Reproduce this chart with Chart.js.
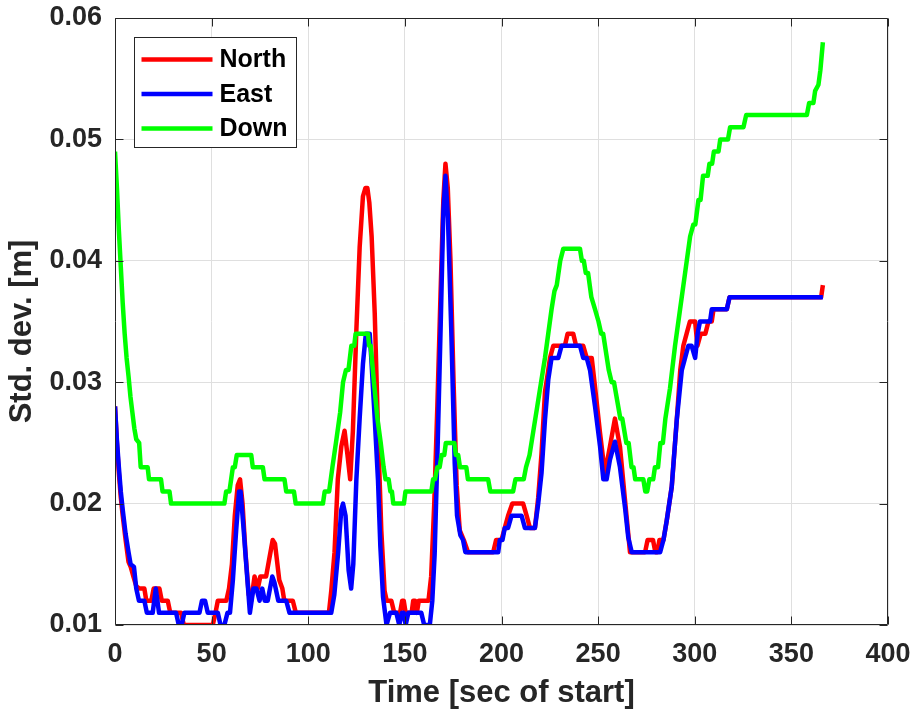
<!DOCTYPE html>
<html>
<head>
<meta charset="utf-8">
<script src="https://cdn.jsdelivr.net/npm/chart.js@4.4.1/dist/chart.umd.min.js"></script>
<style>
  html, body { margin: 0; padding: 0; background: #ffffff; }
  canvas { display: block; }
</style>
</head>
<body>
<canvas id="chart" width="916" height="713"></canvas>
<script>
// Standard deviation of the position solution over time, per axis.
const seriesNames = ['North', 'East', 'Down'];
const seriesColors = ['#ff0000', '#0000ff', '#00ff00'];

// [time (s), std. dev. (m)]
const northPts = [
  [0,0.028],[1,0.025],[2,0.0225],[3,0.0205],[4,0.019],[5.5,0.017],[7,0.0152],[8.1,0.0148],[9.5,0.014],[11,0.0132],
  [12.6,0.013],[15.2,0.013],[16.2,0.012],[18.8,0.012],[20,0.013],[23,0.013],[24.2,0.012],[27.3,0.012],[28.6,0.011],[34.2,0.011],
  [35.6,0.010],[50.6,0.010],[52,0.011],[53.2,0.012],[57.6,0.012],[59,0.013],[60.5,0.015],[62,0.019],[63.5,0.0215],[64.7,0.022],
  [66,0.020],[67.5,0.016],[69.2,0.0125],[70.5,0.012],[72.2,0.014],[73.9,0.013],[75.2,0.014],[78.2,0.014],[80,0.0156],[81.6,0.017],
  [82.8,0.0167],[85,0.0137],[86.6,0.013],[87.6,0.012],[92,0.012],[93.6,0.011],[110.7,0.011],[111.9,0.0128],[113.6,0.016],[115.3,0.022],
  [117.1,0.0247],[118.8,0.026],[120.3,0.024],[121.7,0.022],[123.1,0.026],[124.9,0.0343],[126.6,0.0411],[128.3,0.0453],[129.6,0.046],[130.6,0.046],
  [131.6,0.0448],[132.8,0.042],[134.4,0.0357],[136.1,0.026],[137.8,0.0178],[139.5,0.0128],[140.6,0.012],[143,0.012],[144.5,0.011],[147.5,0.011],
  [148.6,0.012],[149.4,0.012],[150.4,0.011],[153.5,0.011],[154.3,0.012],[155.3,0.012],[156.2,0.011],[157.2,0.012],[162.2,0.012],[163.6,0.014],
  [165.2,0.020],[166.8,0.028],[168.4,0.037],[169.9,0.045],[171,0.048],[172.2,0.046],[173.6,0.040],[175.2,0.030],[176.8,0.0215],[178.4,0.0178],
  [180.5,0.017],[182.7,0.016],[195.7,0.016],[197.2,0.017],[200,0.017],[201.7,0.018],[203.4,0.019],[205.6,0.020],[211.2,0.020],[213,0.019],
  [214.7,0.018],[217.3,0.018],[219,0.0205],[220.7,0.0241],[222.5,0.0292],[224.2,0.031],[225.1,0.032],[226.8,0.033],[232.8,0.033],[234.2,0.034],
  [237.1,0.034],[238.6,0.033],[242.3,0.033],[244.1,0.032],[246.7,0.032],[248.4,0.0296],[251,0.0258],[253.5,0.0225],[256.1,0.0247],[258.7,0.027],
  [261.3,0.0247],[263.9,0.0203],[266.5,0.016],[274.3,0.016],[275.6,0.017],[278.4,0.017],[279.6,0.016],[280.6,0.016],[281.7,0.017],[283.8,0.017],
  [285.5,0.0186],[288.1,0.0214],[290.7,0.0269],[292.5,0.031],[294.1,0.033],[295.8,0.034],[297.5,0.035],[300.2,0.035],[301.4,0.033],[303.1,0.034],
  [305.5,0.034],[307.1,0.035],[308.8,0.035],[309.7,0.036],[316.6,0.036],[318,0.037],[365.4,0.037],[366.3,0.038]
];

const eastPts = [
  [0,0.028],[1,0.0252],[2,0.023],[3,0.021],[4,0.0195],[5.5,0.0175],[7,0.016],[8.1,0.015],[9.8,0.0148],[11,0.013],
  [12.4,0.012],[15.2,0.012],[16.5,0.011],[19.5,0.011],[21.1,0.013],[22.8,0.011],[31.6,0.011],[33,0.010],[34.5,0.010],[35.9,0.011],
  [43.7,0.011],[45,0.012],[46.6,0.012],[48,0.011],[53.2,0.011],[54.6,0.010],[56.6,0.010],[58.2,0.011],[59.5,0.011],[61,0.0137],
  [62.7,0.0178],[64.2,0.021],[65,0.021],[66.5,0.018],[67.9,0.015],[69.8,0.011],[71.6,0.013],[73.2,0.013],[74.8,0.012],[76.2,0.013],
  [77.5,0.012],[79,0.012],[81.4,0.014],[82.5,0.0135],[84.5,0.012],[88.6,0.012],[90.3,0.011],[111.9,0.011],[113.5,0.0125],[115.5,0.016],
  [117.1,0.0195],[118,0.020],[119.3,0.019],[120.9,0.0145],[122.2,0.013],[123.3,0.015],[124.9,0.022],[126.6,0.027],[128.3,0.0315],[129.8,0.034],
  [131.8,0.034],[132.6,0.032],[134.4,0.027],[136.1,0.0219],[137.3,0.0165],[138.7,0.0123],[140.5,0.010],[142.3,0.011],[145.6,0.011],[147.1,0.010],
  [148.5,0.011],[149.4,0.011],[150.4,0.010],[151.8,0.011],[158.5,0.011],[160,0.010],[162.9,0.010],[164.2,0.012],[165.4,0.0158],[167,0.025],
  [168.5,0.0345],[169.9,0.044],[171,0.047],[172.3,0.0435],[174,0.0343],[175.8,0.0233],[177,0.019],[178.7,0.0174],[180.1,0.017],[181.3,0.016],
  [198.3,0.016],[199.1,0.017],[200.5,0.017],[201.7,0.018],[203.4,0.018],[205.2,0.019],[210.4,0.019],[212.1,0.018],[217.3,0.018],[219,0.020],
  [220.7,0.0225],[222.5,0.0269],[224.2,0.0302],[225.9,0.032],[229.4,0.032],[231.1,0.033],[240.6,0.033],[242.3,0.032],[244.1,0.032],[245.8,0.031],
  [248.4,0.028],[251,0.0247],[252.7,0.022],[254.4,0.022],[256.1,0.0236],[258.7,0.0251],[261.3,0.023],[263.9,0.0197],[265.6,0.0172],[267.4,0.016],
  [282.1,0.016],[283.8,0.017],[285.5,0.0186],[288.1,0.0214],[290.7,0.0269],[293.3,0.031],[295,0.032],[296.7,0.033],[298.4,0.033],[300.2,0.032],
  [301.5,0.034],[302.7,0.035],[307.9,0.035],[308.8,0.036],[316.6,0.036],[318,0.037],[366.3,0.037]
];

const downPts = [
  [0,0.049],[1,0.046],[2,0.0425],[3,0.0395],[4,0.0365],[5,0.034],[6,0.032],[7,0.0305],[8,0.0288],[9,0.0275],
  [10,0.0262],[11,0.0253],[12.5,0.025],[13.3,0.023],[16.9,0.023],[17.6,0.022],[23.8,0.022],[24.6,0.021],[28.2,0.021],[29,0.020],
  [56.6,0.020],[57.5,0.021],[59.2,0.021],[60.1,0.022],[61,0.023],[62,0.023],[63,0.024],[70.5,0.024],[71.3,0.023],[76.5,0.023],
  [77.4,0.022],[87.7,0.022],[88.6,0.021],[92.6,0.021],[93.5,0.020],[107.6,0.020],[108.5,0.021],[110.8,0.021],[112.5,0.023],[114.5,0.0252],
  [116.5,0.0275],[118,0.030],[119.5,0.031],[120.8,0.031],[122.3,0.033],[123.8,0.033],[124.5,0.034],[130.9,0.034],[131.5,0.033],[132.3,0.033],
  [134,0.030],[135.8,0.027],[137.5,0.025],[139,0.023],[140,0.022],[141.6,0.022],[142.5,0.021],[143.3,0.021],[144,0.020],[149.5,0.020],
  [150.3,0.021],[163.7,0.021],[164.6,0.022],[165.6,0.022],[166.8,0.023],[168,0.023],[169,0.024],[170.4,0.024],[171.2,0.025],[175.6,0.025],
  [176.4,0.024],[177.6,0.024],[178.5,0.023],[181.8,0.023],[182.6,0.022],[193.1,0.022],[194.2,0.021],[206,0.021],[207.2,0.022],[211.5,0.022],
  [212.7,0.023],[214.5,0.024],[216.5,0.026],[218.5,0.028],[220.5,0.030],[222.5,0.032],[224.2,0.034],[225.9,0.036],[227.4,0.0375],[228.6,0.038],
  [230.4,0.040],[232,0.041],[240.6,0.041],[241.6,0.040],[242.6,0.040],[243.6,0.039],[244.8,0.039],[246.5,0.037],[248.4,0.036],[250.2,0.035],
  [251.6,0.034],[252.6,0.034],[255.5,0.031],[257,0.030],[258.2,0.030],[261.5,0.027],[262.5,0.027],[264.6,0.025],[265.8,0.025],[267.3,0.023],
  [268.3,0.023],[269.2,0.022],[273.4,0.022],[274.4,0.021],[275.4,0.021],[276.5,0.022],[278.5,0.022],[279.4,0.023],[281,0.023],[282.2,0.025],
  [283.5,0.025],[284.8,0.027],[287.2,0.0295],[289.8,0.033],[292.4,0.036],[295,0.039],[297.6,0.042],[299.3,0.043],[300.3,0.043],[301.9,0.045],
  [303,0.045],[304.3,0.047],[306.7,0.047],[307.6,0.048],[309,0.048],[309.9,0.049],[312.3,0.049],[313.2,0.050],[317.2,0.050],[318.3,0.051],
  [325.2,0.051],[326.6,0.052],[358,0.052],[359.2,0.053],[361.4,0.053],[362.3,0.054],[364,0.0545],[365,0.0557],[366.3,0.058]
];

const xTicks = [0, 50, 100, 150, 200, 250, 300, 350, 400];
const yTicks = [0.01, 0.02, 0.03, 0.04, 0.05, 0.06];
const xTitle = 'Time [sec of start]';
const yTitle = 'Std. dev. [m]';

const FONT = '"Liberation Sans", Arial, Helvetica, sans-serif';
const INK = '#262626';
const GRID = '#dfdfdf';

const toXY = pts => pts.map(p => ({ x: p[0], y: p[1] }));

// Axes box with inward-pointing tick marks on all four sides.
const axesBox = {
  id: 'axesBox',
  afterDatasetsDraw(chart) {
    const { ctx, chartArea: a, scales } = chart;
    const L = Math.round(a.left) + 0.5, R = Math.round(a.right) - 0.5;
    const T = Math.round(a.top) + 0.5, B = Math.round(a.bottom) - 0.5;
    const len = 8;
    ctx.save();
    ctx.strokeStyle = INK;
    ctx.lineWidth = 1;
    ctx.beginPath();
    ctx.rect(L, T, R - L, B - T);
    xTicks.forEach(v => {
      const px = Math.round(scales.x.getPixelForValue(v)) + 0.5;
      ctx.moveTo(px, B); ctx.lineTo(px, B - len);
      ctx.moveTo(px, T); ctx.lineTo(px, T + len);
    });
    yTicks.forEach(v => {
      const py = Math.round(scales.y.getPixelForValue(v)) + 0.5;
      ctx.moveTo(L, py); ctx.lineTo(L + len, py);
      ctx.moveTo(R, py); ctx.lineTo(R - len, py);
    });
    ctx.stroke();
    ctx.restore();
  }
};

// Rotated y-axis title.
const yAxisTitle = {
  id: 'yAxisTitle',
  afterDraw(chart) {
    const { ctx, chartArea: a } = chart;
    ctx.save();
    ctx.translate(22.5, (a.top + a.bottom) / 2 + 10);
    ctx.rotate(-Math.PI / 2);
    ctx.font = 'bold 31px ' + FONT;
    ctx.fillStyle = INK;
    ctx.textAlign = 'center';
    ctx.textBaseline = 'middle';
    ctx.fillText(yTitle, 0, 0);
    ctx.restore();
  }
};

// Boxed legend in the upper-left corner of the plot area.
const boxLegend = {
  id: 'boxLegend',
  afterDraw(chart) {
    const { ctx, chartArea: a } = chart;
    const x0 = Math.round(a.left + 19) + 0.5, y0 = Math.round(a.top + 19) + 0.5;
    const w = 162, h = 110;
    ctx.save();
    ctx.fillStyle = '#ffffff';
    ctx.fillRect(x0, y0, w, h);
    ctx.strokeStyle = INK;
    ctx.lineWidth = 1;
    ctx.strokeRect(x0, y0, w, h);
    ctx.font = 'bold 25px ' + FONT;
    ctx.textAlign = 'left';
    ctx.textBaseline = 'middle';
    chart.data.datasets.forEach((ds, i) => {
      const yy = y0 + 22 + i * 34.5;
      ctx.strokeStyle = ds.borderColor;
      ctx.lineWidth = 4.5;
      ctx.beginPath();
      ctx.moveTo(x0 + 7, yy);
      ctx.lineTo(x0 + 78, yy);
      ctx.stroke();
      ctx.fillStyle = '#000000';
      ctx.fillText(ds.label, x0 + 85, yy + 1);
    });
    ctx.restore();
  }
};

const seriesData = [northPts, eastPts, downPts];
const drawOrder = [2, 1, 0];

new Chart(document.getElementById('chart'), {
  type: 'line',
  data: {
    datasets: seriesNames.map((name, i) => ({
      label: name,
      data: toXY(seriesData[i]),
      borderColor: seriesColors[i],
      backgroundColor: seriesColors[i],
      borderWidth: 4.5,
      pointRadius: 0,
      tension: 0,
      fill: false,
      borderJoinStyle: 'round',
      order: drawOrder[i]
    }))
  },
  options: {
    responsive: false,
    animation: false,
    events: [],
    layout: { padding: { left: 0, right: 28, top: 18, bottom: 0 } },
    plugins: {
      legend: { display: false },
      tooltip: { enabled: false }
    },
    scales: {
      x: {
        type: 'linear',
        min: 0,
        max: 400,
        afterBuildTicks: s => { s.ticks = xTicks.map(v => ({ value: v })); },
        afterFit: s => { s.height = 88; s.paddingLeft = 0; s.paddingRight = 0; },
        ticks: {
          font: { family: FONT, size: 27, weight: 'bold' },
          color: INK,
          padding: 13,
          maxRotation: 0,
          autoSkip: false
        },
        grid: { color: GRID, lineWidth: 1, drawTicks: false },
        border: { display: false },
        title: {
          display: true,
          text: xTitle,
          font: { family: FONT, size: 31, weight: 'bold' },
          color: INK,
          padding: { top: 0, bottom: 1 }
        }
      },
      y: {
        type: 'linear',
        min: 0.01,
        max: 0.06,
        afterBuildTicks: s => { s.ticks = yTicks.map(v => ({ value: v })); },
        afterFit: s => { s.width = 115; s.paddingTop = 0; s.paddingBottom = 0; },
        ticks: {
          font: { family: FONT, size: 27, weight: 'bold' },
          color: INK,
          padding: 13,
          callback: v => v.toFixed(2)
        },
        grid: { color: GRID, lineWidth: 1, drawTicks: false },
        border: { display: false }
      }
    }
  },
  plugins: [axesBox, yAxisTitle, boxLegend]
});
</script>
</body>
</html>
